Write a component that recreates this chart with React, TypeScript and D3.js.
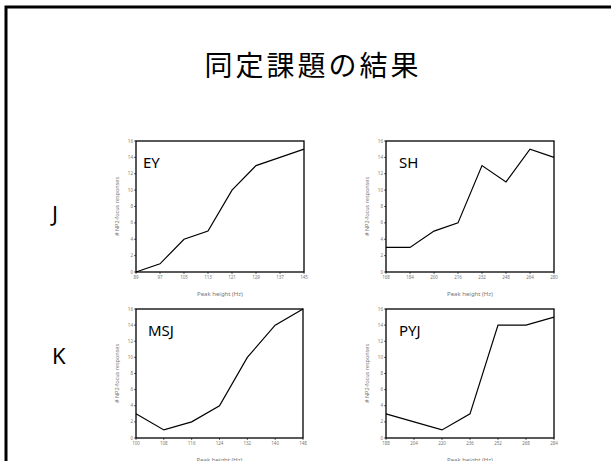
import React from "react";
import * as d3 from "d3";

const TITLE = "同定課題の結果";
const ROW_LABELS = ["J", "K"];

const EY_X = [89, 97, 105, 113, 121, 129, 137, 145];
const EY_Y = [0, 1, 4, 5, 10, 13, 14, 15];
const SH_X = [168, 184, 200, 216, 232, 248, 264, 280];
const SH_Y = [3, 3, 5, 6, 13, 11, 15, 14];
const MSJ_X = [100, 108, 116, 124, 132, 140, 148];
const MSJ_Y = [3, 1, 2, 4, 10, 14, 16];
const PYJ_X = [188, 204, 220, 236, 252, 268, 284];
const PYJ_Y = [3, 2, 1, 3, 14, 14, 15];

const Y_TICKS = [0, 2, 4, 6, 8, 10, 12, 14, 16];
const X_LABEL = "Peak height (Hz)";
const Y_LABEL = "# NP2-focus responses";

type PanelProps = {
  name: string;
  xs: number[];
  ys: number[];
  x0: number;
  y0: number;
  w: number;
  h: number;
  nameDx: number;
};

function Panel({ name, xs, ys, x0, y0, w, h, nameDx }: PanelProps) {
  const x = d3.scaleLinear().domain([xs[0], xs[xs.length - 1]]).range([x0, x0 + w]);
  const y = d3.scaleLinear().domain([0, 16]).range([y0 + h, y0]);
  const line = d3
    .line<number>()
    .x((_, i) => x(xs[i]))
    .y((d) => y(d));
  const tickColor = "#777";
  return (
    <g>
      <rect x={x0} y={y0} width={w} height={h} fill="none" stroke="#000" strokeWidth={1.3} />
      {Y_TICKS.map((t) => (
        <g key={"y" + t}>
          <line x1={x0 - 2} x2={x0} y1={y(t)} y2={y(t)} stroke="#000" strokeWidth={0.6} />
          <text x={x0 - 3} y={y(t)} dy="0.35em" textAnchor="end" fontSize={4.5} fill={tickColor}>
            {t}
          </text>
        </g>
      ))}
      {xs.map((t) => (
        <g key={"x" + t}>
          <line x1={x(t)} x2={x(t)} y1={y0 + h} y2={y0 + h + 2} stroke="#000" strokeWidth={0.6} />
          <text x={x(t)} y={y0 + h + 7} textAnchor="middle" fontSize={4.5} fill={tickColor}>
            {t}
          </text>
        </g>
      ))}
      <text x={x0 + w / 2} y={y0 + h + 24} textAnchor="middle" fontSize={6} fill={tickColor}>
        {X_LABEL}
      </text>
      <text
        transform={`translate(${x0 - 17},${y0 + h / 2}) rotate(-90)`}
        textAnchor="middle"
        fontSize={5.5}
        fill={tickColor}
      >
        {Y_LABEL}
      </text>
      <path d={line(ys) || ""} fill="none" stroke="#000" strokeWidth={1.2} />
      <text x={x0 + nameDx} y={y0 + 27} fontSize={15} fill="#000">
        {name}
      </text>
    </g>
  );
}

export default function App() {
  return (
    <svg
      width={611}
      height={461}
      style={{ position: "absolute", left: 0, top: 0, background: "#fff" }}
      fontFamily="'Noto Sans', sans-serif"
    >
      <rect x={0} y={0} width={611} height={461} fill="#fff" />
      <rect x={6} y={7} width={800} height={600} fill="none" stroke="#000" strokeWidth={3} />
      <text
        x={313}
        y={76}
        textAnchor="middle"
        fontSize={28}
        letterSpacing={3}
        fontFamily="'Noto Sans CJK JP', sans-serif"
        fill="#000"
      >
        {TITLE}
      </text>
      <text x={52} y={222} fontSize={22} fill="#000">{ROW_LABELS[0]}</text>
      <text x={52} y={364} fontSize={22} fill="#000">{ROW_LABELS[1]}</text>
      <Panel name="EY" xs={EY_X} ys={EY_Y} x0={136} y0={141} w={168} h={131} nameDx={7} />
      <Panel name="SH" xs={SH_X} ys={SH_Y} x0={386} y0={141} w={168} h={131} nameDx={13} />
      <Panel name="MSJ" xs={MSJ_X} ys={MSJ_Y} x0={136} y0={309} w={167} h={129} nameDx={12} />
      <Panel name="PYJ" xs={PYJ_X} ys={PYJ_Y} x0={386} y0={309} w={168} h={129} nameDx={13} />
    </svg>
  );
}
